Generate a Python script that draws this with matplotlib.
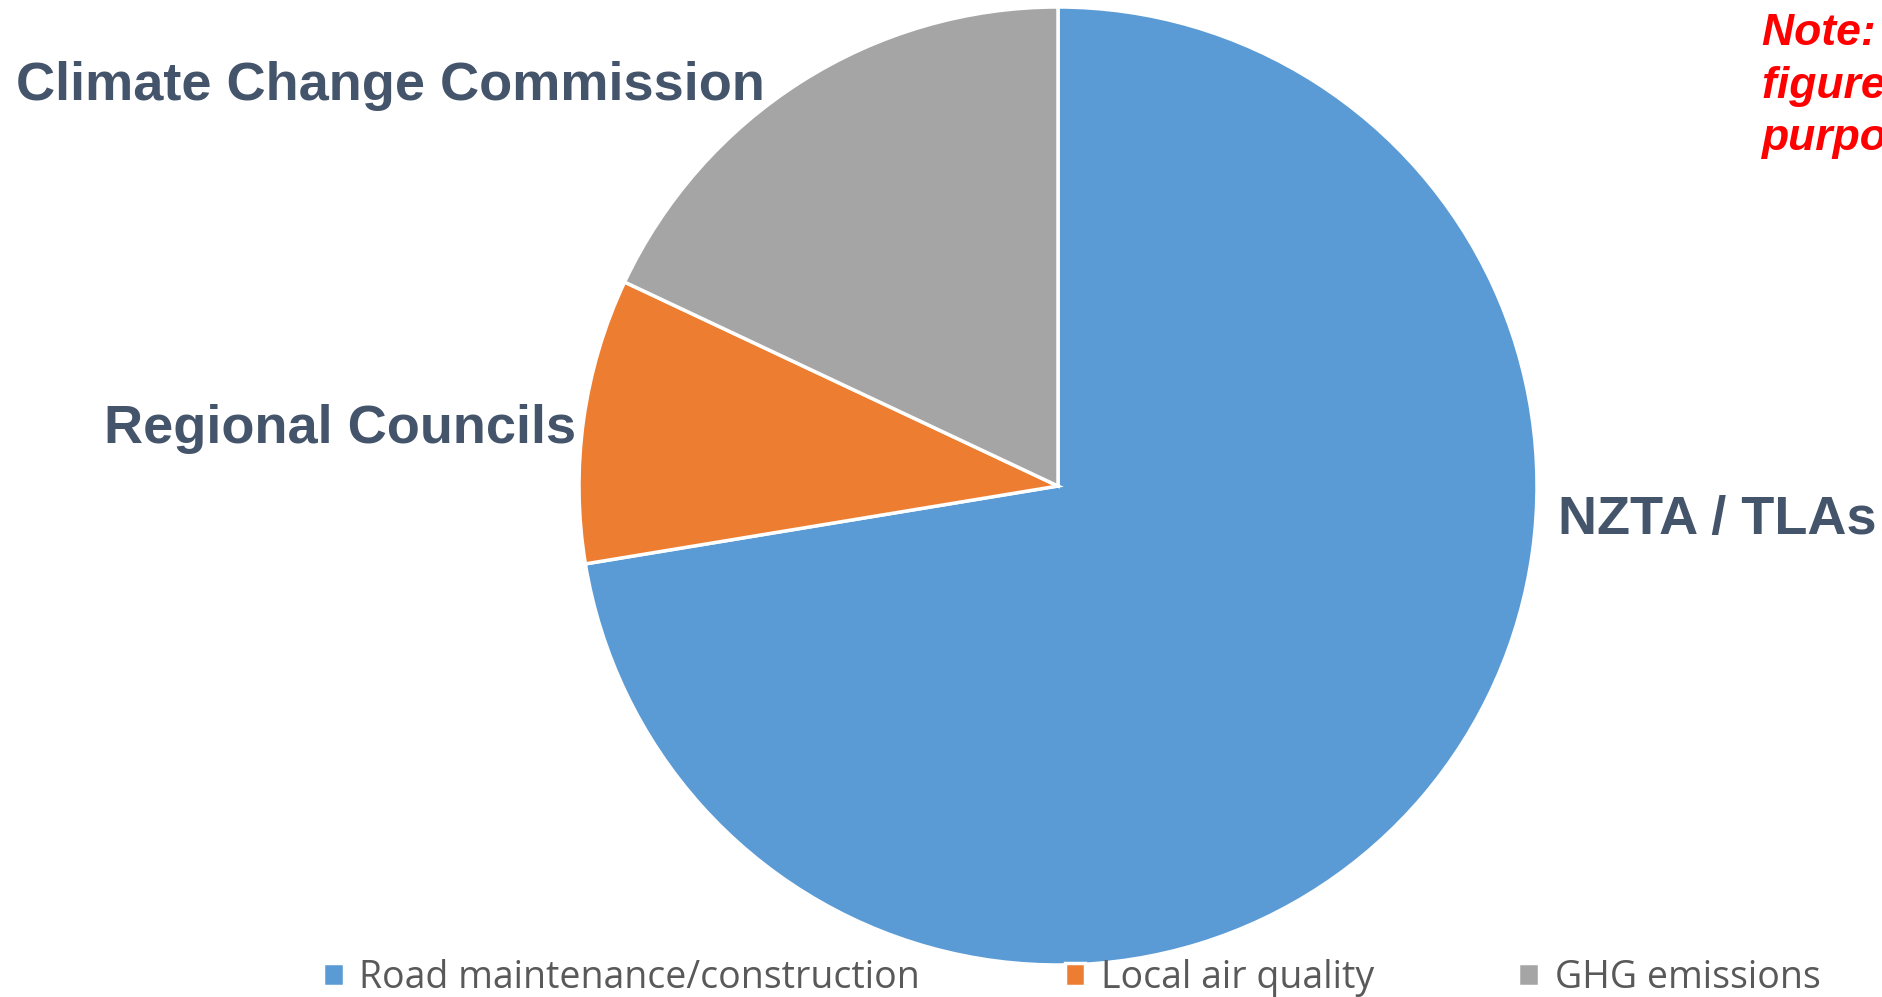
import matplotlib
matplotlib.use("Agg")
import matplotlib.pyplot as plt

W, H = 1883, 997

categories = ["Road maintenance/construction", "Local air quality", "GHG emissions"]
shares = [72.4, 9.6, 18.0]
colors = ["#5B9BD5", "#ED7D31", "#A5A5A5"]
slice_labels = ["NZTA / TLAs", "Regional Councils", "Climate Change Commission"]
note = "Note: Indicative\nfigures for illustrative\npurposes only"

fig = plt.figure(figsize=(W / 100, H / 100), dpi=100)

# pie centred at (1058, 486) px from top-left, radius ~479 px
cx, cy, r = 1058, 486, 479
ax = fig.add_axes([(cx - r) / W, (H - cy - r) / H, 2 * r / W, 2 * r / H])
wedges, _ = ax.pie(shares, colors=colors, startangle=90, counterclock=False,
                   radius=1.0, wedgeprops=dict(edgecolor="white", linewidth=2.5))
ax.set_xlim(-1, 1)
ax.set_ylim(-1, 1)
ax.set_aspect("auto")
ax.axis("off")

label_style = dict(color="#44546A", fontsize=39, fontweight="bold",
                   family="Liberation Sans", va="center")
fig.text(1558 / W, 1 - 520 / H, slice_labels[0], ha="left", **label_style)
fig.text(576 / W, 1 - 429 / H, slice_labels[1], ha="right", **label_style)
fig.text(16 / W, 1 - 86 / H, slice_labels[2], ha="left", **label_style)

fig.text(1762 / W, 1 - 13 / H, note, ha="left", va="top", color="red",
         fontsize=32, fontweight="bold", style="italic", family="Liberation Sans",
         linespacing=1.36)

leg = fig.legend(wedges, categories, loc="center left", ncol=3,
                 bbox_to_anchor=(323 / W, 1 - 978 / H), frameon=False,
                 prop=dict(family="Open Sans", size=27),
                 handlelength=0.55, handleheight=0.55, handletextpad=0.42,
                 columnspacing=3.85, borderaxespad=0, borderpad=0)
for t in leg.get_texts():
    t.set_color("#595959")

fig.savefig("out.png", dpi=100)
